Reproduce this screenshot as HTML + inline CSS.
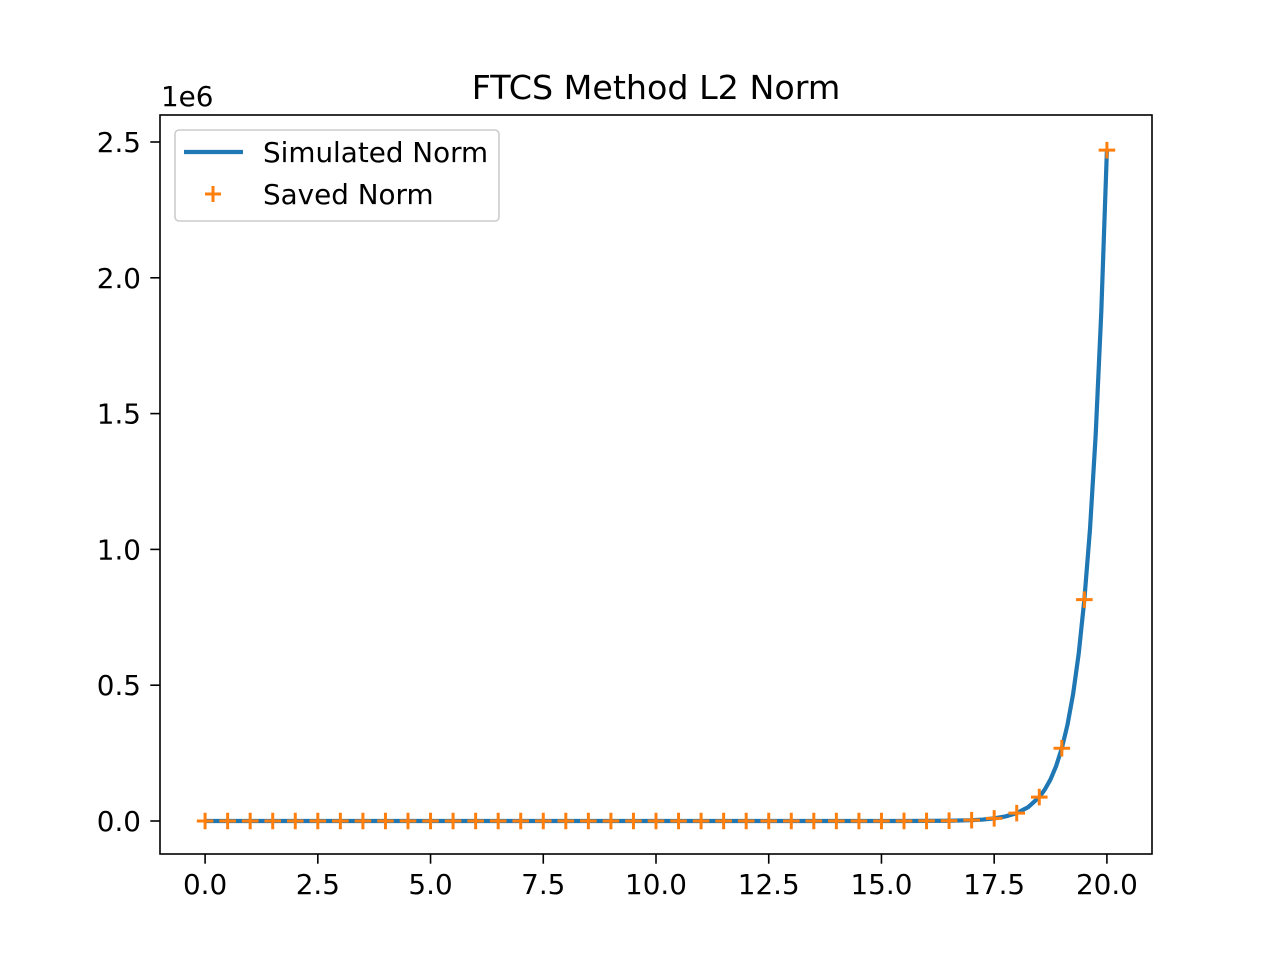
<!DOCTYPE html>
<html><head><meta charset="utf-8"><style>
body{margin:0;background:#fff}
svg text{font-family:"DejaVu Sans","Liberation Sans",sans-serif;fill:#000}
.t{font-size:27.8px}
</style></head><body>
<svg id="chart" width="1280" height="960" xmlns="http://www.w3.org/2000/svg">
<rect width="1280" height="960" fill="#fff"/>
<text x="656" y="99" style="font-size:33.3px" text-anchor="middle">FTCS Method L2 Norm</text>
<text x="161" y="106" style="font-size:27.8px">1e6</text>
<g id="ticks"></g>
<g id="marks"></g>
<rect x="160" y="115" width="992" height="739" fill="none" stroke="#000" stroke-width="1.6"/>
<g>
<rect x="175" y="130" width="324" height="91" rx="4" fill="#fff" fill-opacity="0.8" stroke="#ccc" stroke-width="1.6"/>
<line x1="184" y1="152" x2="243" y2="152" stroke="#1f77b4" stroke-width="4.2"/>
<text x="263" y="162" style="font-size:27.8px">Simulated Norm</text>
<path d="M205 194H221M213 186V202" stroke="#ff7f0e" stroke-width="3"/>
<text x="263" y="204" style="font-size:27.8px">Saved Norm</text>
</g>
</svg>
<script>
const xTicks=[0,2.5,5,7.5,10,12.5,15,17.5,20];
const xTickLabels=["0.0","2.5","5.0","7.5","10.0","12.5","15.0","17.5","20.0"];
const yTicks=[0,0.5,1.0,1.5,2.0,2.5];
const yTickLabels=["0.0","0.5","1.0","1.5","2.0","2.5"];
const savedX=[0,0.5,1,1.5,2,2.5,3,3.5,4,4.5,5,5.5,6,6.5,7,7.5,8,8.5,9,9.5,10,10.5,11,11.5,12,12.5,13,13.5,14,14.5,15,15.5,16,16.5,17,17.5,18,18.5,19,19.5,20];
const savedY=[0,0,0,0,0,0,0,0,0,0,0,0,0,0,0,0,0,0,0,0,0,0,0,0,0,0,0,0,0,0,0.00004,0.0001,0.00033,0.001,0.003,0.0097,0.029,0.088,0.268,0.815,2.47];
const simX=[0,5,10,14,15,15.5,16,16.5,17,17.25,17.5,17.75,18,18.25,18.5,18.625,18.75,18.875,19,19.125,19.25,19.375,19.5,19.625,19.75,19.875,20];
const simY=[0,0,0,0.00001,0.00004,0.0001,0.00033,0.001,0.003,0.0052,0.0097,0.0168,0.029,0.0505,0.088,0.1163,0.1535,0.2028,0.268,0.3537,0.467,0.617,0.815,1.075,1.419,1.873,2.47];
const X0=160,X1=1152,Y0=854,Y1=115,xmin=-1,xmax=21,ymin=-0.1215,ymax=2.5994;
const sx=v=>X0+(v-xmin)/(xmax-xmin)*(X1-X0);
const sy=v=>Y0-(v-ymin)/(ymax-ymin)*(Y0-Y1);
const NS="http://www.w3.org/2000/svg";
const ticks=document.getElementById('ticks'),marks=document.getElementById('marks');
function mk(tag,attrs,parent){const e=document.createElementNS(NS,tag);for(const k in attrs)e.setAttribute(k,attrs[k]);parent.appendChild(e);return e;}
xTicks.forEach((t,i)=>{
 const l=mk('line',{x1:sx(t),x2:sx(t),y1:Y0,y2:Y0+9.7,stroke:'#000','stroke-width':1.6},ticks);
 
 
 const tx=mk('text',{x:sx(t),y:Y0+40,'class':'t','text-anchor':'middle'},ticks);tx.textContent=xTickLabels[i];
 
 
});
yTicks.forEach((t,i)=>{
 const l=mk('line',{x1:X0-9.7,x2:X0,y1:sy(t),y2:sy(t),stroke:'#000','stroke-width':1.6},ticks);
 
 
 const tx=mk('text',{x:X0-19,y:sy(t)+10,'class':'t','text-anchor':'end'},ticks);tx.textContent=yTickLabels[i];
 
 
});
const d=simX.map((x,i)=>(i?'L':'M')+sx(x).toFixed(2)+' '+sy(simY[i]).toFixed(2)).join('');
const p=mk('path',{d:d,fill:'none',stroke:'#1f77b4','stroke-width':4.2,'stroke-linejoin':'round'},marks);


savedX.forEach((x,i)=>{
 const cx=sx(x),cy=sy(savedY[i]);
 const m=mk('path',{d:`M${cx-8.3} ${cy}H${cx+8.3}M${cx} ${cy-8.3}V${cy+8.3}`,stroke:'#ff7f0e','stroke-width':3},marks);
 
 
});
</script>
</body></html>
